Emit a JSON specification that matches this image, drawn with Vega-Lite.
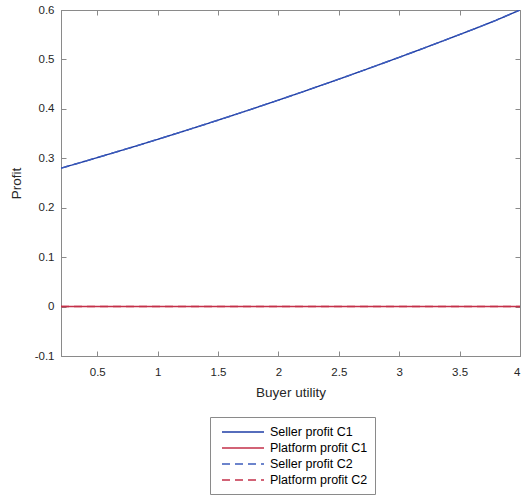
{
  "$schema": "https://vega.github.io/schema/vega-lite/v6.json",
  "autosize": {"type": "none"},
  "padding": {"left": 61, "top": 10, "right": 4, "bottom": 142},
  "width": 459,
  "height": 346,
  "background": "white",
  "config": {
    "font": "Liberation Sans",
    "view": {"stroke": "#8a8a8a", "strokeWidth": 1},
    "axis": {
      "grid": false,
      "domainColor": "#8a8a8a",
      "tickColor": "#8a8a8a",
      "tickSize": -5,
      "labelFont": "Liberation Sans",
      "labelFontSize": 11.5,
      "labelColor": "#262626",
      "titleFont": "Liberation Sans",
      "titleFontSize": 13.5,
      "titleFontWeight": "normal",
      "titleColor": "#262626"
    },
    "legend": {
      "orient": "none",
      "legendX": 149,
      "legendY": 407,
      "title": null,
      "symbolType": "M-1,0H5",
      "symbolSize": 196,
      "symbolOffset": 4,
      "symbolStrokeWidth": 1.4,
      "symbolFillColor": "transparent",
      "strokeColor": "#8a8a8a",
      "fillColor": "white",
      "padding": 7,
      "rowPadding": 1,
      "labelFont": "Liberation Sans",
      "labelFontSize": 12.5,
      "labelColor": "#000000",
      "labelOffset": 33
    }
  },
  "data": {
    "values": [
      {"u": 0.2, "profit": 0.2800, "series": "Seller profit C1"},
      {"u": 0.4, "profit": 0.2941, "series": "Seller profit C1"},
      {"u": 0.6, "profit": 0.3086, "series": "Seller profit C1"},
      {"u": 0.8, "profit": 0.3233, "series": "Seller profit C1"},
      {"u": 1.0, "profit": 0.3383, "series": "Seller profit C1"},
      {"u": 1.2, "profit": 0.3536, "series": "Seller profit C1"},
      {"u": 1.4, "profit": 0.3692, "series": "Seller profit C1"},
      {"u": 1.6, "profit": 0.3851, "series": "Seller profit C1"},
      {"u": 1.8, "profit": 0.4012, "series": "Seller profit C1"},
      {"u": 2.0, "profit": 0.4177, "series": "Seller profit C1"},
      {"u": 2.2, "profit": 0.4344, "series": "Seller profit C1"},
      {"u": 2.4, "profit": 0.4515, "series": "Seller profit C1"},
      {"u": 2.6, "profit": 0.4688, "series": "Seller profit C1"},
      {"u": 2.8, "profit": 0.4864, "series": "Seller profit C1"},
      {"u": 3.0, "profit": 0.5043, "series": "Seller profit C1"},
      {"u": 3.2, "profit": 0.5225, "series": "Seller profit C1"},
      {"u": 3.4, "profit": 0.5410, "series": "Seller profit C1"},
      {"u": 3.6, "profit": 0.5597, "series": "Seller profit C1"},
      {"u": 3.8, "profit": 0.5790, "series": "Seller profit C1"},
      {"u": 4.0, "profit": 0.6000, "series": "Seller profit C1"},
      {"u": 0.2, "profit": 0, "series": "Platform profit C1"},
      {"u": 1.0, "profit": 0, "series": "Platform profit C1"},
      {"u": 2.0, "profit": 0, "series": "Platform profit C1"},
      {"u": 3.0, "profit": 0, "series": "Platform profit C1"},
      {"u": 4.0, "profit": 0, "series": "Platform profit C1"},
      {"u": 0.2, "profit": 0.2800, "series": "Seller profit C2"},
      {"u": 0.4, "profit": 0.2941, "series": "Seller profit C2"},
      {"u": 0.6, "profit": 0.3086, "series": "Seller profit C2"},
      {"u": 0.8, "profit": 0.3233, "series": "Seller profit C2"},
      {"u": 1.0, "profit": 0.3383, "series": "Seller profit C2"},
      {"u": 1.2, "profit": 0.3536, "series": "Seller profit C2"},
      {"u": 1.4, "profit": 0.3692, "series": "Seller profit C2"},
      {"u": 1.6, "profit": 0.3851, "series": "Seller profit C2"},
      {"u": 1.8, "profit": 0.4012, "series": "Seller profit C2"},
      {"u": 2.0, "profit": 0.4177, "series": "Seller profit C2"},
      {"u": 2.2, "profit": 0.4344, "series": "Seller profit C2"},
      {"u": 2.4, "profit": 0.4515, "series": "Seller profit C2"},
      {"u": 2.6, "profit": 0.4688, "series": "Seller profit C2"},
      {"u": 2.8, "profit": 0.4864, "series": "Seller profit C2"},
      {"u": 3.0, "profit": 0.5043, "series": "Seller profit C2"},
      {"u": 3.2, "profit": 0.5225, "series": "Seller profit C2"},
      {"u": 3.4, "profit": 0.5410, "series": "Seller profit C2"},
      {"u": 3.6, "profit": 0.5597, "series": "Seller profit C2"},
      {"u": 3.8, "profit": 0.5790, "series": "Seller profit C2"},
      {"u": 4.0, "profit": 0.6000, "series": "Seller profit C2"},
      {"u": 0.2, "profit": 0, "series": "Platform profit C2"},
      {"u": 1.0, "profit": 0, "series": "Platform profit C2"},
      {"u": 2.0, "profit": 0, "series": "Platform profit C2"},
      {"u": 3.0, "profit": 0, "series": "Platform profit C2"},
      {"u": 4.0, "profit": 0, "series": "Platform profit C2"}
    ]
  },
  "resolve": {"axis": {"x": "independent", "y": "independent"}},
  "layer": [
    {
      "mark": {"type": "line", "strokeWidth": 1.4, "clip": true},
      "encoding": {
        "x": {
          "field": "u", "type": "quantitative",
          "scale": {"domain": [0.2, 4], "nice": false, "zero": false},
          "axis": {
            "title": "Buyer utility",
            "values": [0.5, 1, 1.5, 2, 2.5, 3, 3.5, 4],
            "labelExpr": "'' + datum.value",
            "labelPadding": 15,
            "titlePadding": 8
          }
        },
        "y": {
          "field": "profit", "type": "quantitative",
          "scale": {"domain": [-0.1, 0.6], "nice": false, "zero": false},
          "axis": {
            "title": "Profit",
            "values": [-0.1, 0, 0.1, 0.2, 0.3, 0.4, 0.5, 0.6],
            "labelExpr": "'' + datum.value",
            "labelPadding": 12,
            "titlePadding": 11
          }
        },
        "color": {
          "field": "series", "type": "nominal",
          "scale": {
            "domain": ["Seller profit C1", "Platform profit C1", "Seller profit C2", "Platform profit C2"],
            "range": ["#1f3ea6", "#c4304a", "#3d5cbc", "#c4304a"]
          }
        },
        "strokeDash": {
          "field": "series", "type": "nominal",
          "scale": {
            "domain": ["Seller profit C1", "Platform profit C1", "Seller profit C2", "Platform profit C2"],
            "range": [[1, 0], [1, 0], [8, 5], [8, 5]]
          }
        }
      }
    },
    {
      "mark": {"type": "line", "opacity": 0},
      "encoding": {
        "x": {
          "field": "u", "type": "quantitative",
          "axis": {
            "orient": "top", "title": null, "labels": false,
            "values": [0.5, 1, 1.5, 2, 2.5, 3, 3.5, 4]
          }
        },
        "y": {
          "field": "profit", "type": "quantitative",
          "axis": {
            "orient": "right", "title": null, "labels": false,
            "values": [-0.1, 0, 0.1, 0.2, 0.3, 0.4, 0.5, 0.6]
          }
        }
      }
    }
  ]
}
